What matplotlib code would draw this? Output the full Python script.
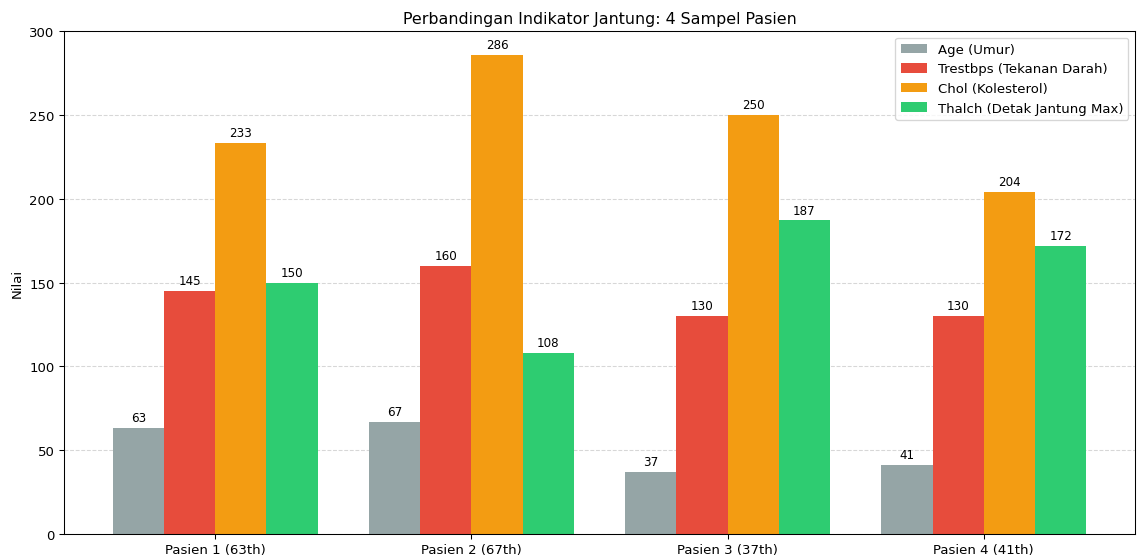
import numpy as np
import matplotlib.pyplot as plt

# sample patients and their heart indicators
pasien = ['Pasien 1 (63th)', 'Pasien 2 (67th)', 'Pasien 3 (37th)', 'Pasien 4 (41th)']
age = [63, 67, 37, 41]
trestbps = [145, 160, 130, 130]
chol = [233, 286, 250, 204]
thalch = [150, 108, 187, 172]

series = [
    (age, 'Age (Umur)', '#95a5a6'),
    (trestbps, 'Trestbps (Tekanan Darah)', '#e74c3c'),
    (chol, 'Chol (Kolesterol)', '#f39c12'),
    (thalch, 'Thalch (Detak Jantung Max)', '#2ecc71'),
]

x = np.arange(len(pasien))
width = 0.2

fig = plt.figure(figsize=(12, 5.863), dpi=95)
ax = fig.add_axes([0.0561, 0.0395, 0.9395, 0.903])

for i, (vals, label, color) in enumerate(series):
    bars = ax.bar(x + (i - 1.5) * width, vals, width, label=label, color=color)
    ax.bar_label(bars, padding=3, fontsize=9)

ax.set_xticks(x)
ax.set_xticklabels(pasien)
ax.set_ylabel('Nilai')
ax.set_ylim(0, 300)
ax.set_title('Perbandingan Indikator Jantung: 4 Sampel Pasien')
ax.grid(axis='y', linestyle='--', alpha=0.5)
ax.set_axisbelow(True)
ax.legend(loc='upper right')

plt.savefig('out.png', dpi=95)
